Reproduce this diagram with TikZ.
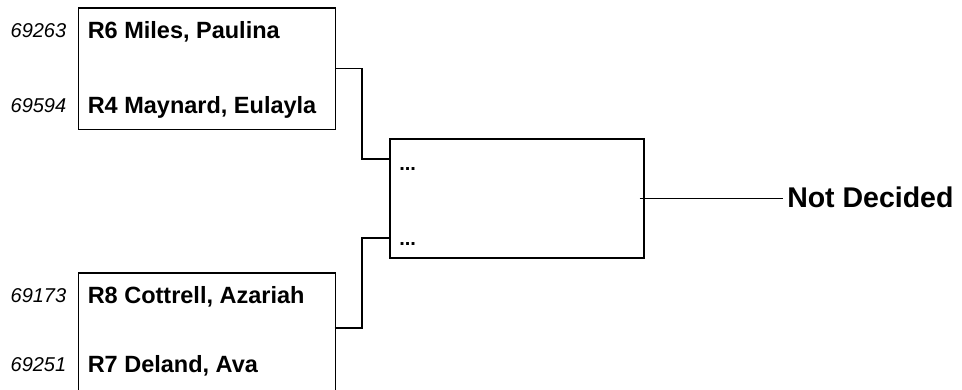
\documentclass[tikz,border=0pt]{standalone}
\usepackage{fontspec}
\setmainfont{Liberation Sans}
\begin{document}
\begin{tikzpicture}[x=1pt,y=-1pt,line width=1.5pt,
    entrybox/.style={draw,rectangle,inner sep=0pt,anchor=north west,minimum width=257pt,minimum height=121.5pt},
    seed/.style={anchor=base east,inner sep=0pt,font=\itshape\fontsize{20}{24}\selectfont},
    player/.style={anchor=base west,inner sep=0pt,font=\bfseries\fontsize{23.5}{28}\selectfont},
    pending/.style={anchor=base west,inner sep=0pt,font=\bfseries\fontsize{20}{24}\selectfont}]
      \useasboundingbox (0,0) rectangle (962,389);
      % first round
      \node[entrybox] (b1) at (77.5,7) {};
      \node[entrybox,minimum height=130pt] (b2) at (77.5,272) {};
      \node[seed] (s1) at (67,37) {69263};
      \node[seed] (s2) at (67,112) {69594};
      \node[seed] (s3) at (67,302) {69173};
      \node[seed] (s4) at (67,371) {69251};
      \node[player] (p1) at (87,38) {R6 Miles, Paulina};
      \node[player] (p2) at (87,113) {R4 Maynard, Eulayla};
      \node[player] (p3) at (87,303) {R8 Cottrell, Azariah};
      \node[player] (p4) at (87,372) {R7 Deland, Ava};
      % final
      \node[draw,rectangle,inner sep=0pt,anchor=north west,minimum width=254pt,minimum height=119pt] (b3) at (389,138) {};
      \node[pending] (d1) at (398.5,170) {...};
      \node[pending] (d2) at (398.5,245) {...};
      \node[anchor=base west,inner sep=3.5pt,font=\bfseries\fontsize{28.5}{34}\selectfont] (champ) at (783,207) {Not Decided};
      \coordinate (in1) at (389,159);
      \coordinate (in2) at (389,238);
      \coordinate (out2) at (334.5,328);
      \draw (b1.east) -| ([xshift=-27pt]in1) -- (in1);
      \draw (out2) -| ([xshift=-27pt]in2) -- (in2);
      \draw[line width=1.3pt] ([xshift=-5pt]b3.east) -- (b3.east -| champ.west);
    \end{tikzpicture}
\end{document}
